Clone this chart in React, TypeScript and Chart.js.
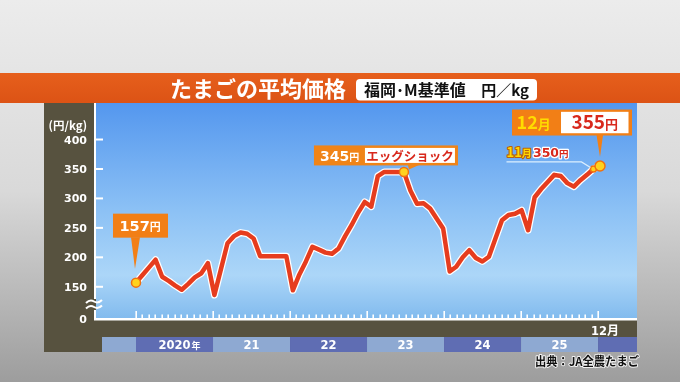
import React, { useEffect, useRef } from "react";
import { Chart, registerables } from "chart.js";
Chart.register(...registerables);

// Monthly price, Jan 2020 .. Dec 2025 (円/kg)
const prices2020 = [157, 170, 183, 196, 167, 160, 152, 145, 155, 166, 173, 190];
const prices2021 = [136, 180, 224, 236, 242, 240, 232, 202, 202, 202, 202, 202];
const prices2022 = [144, 171, 193, 218, 213, 208, 206, 215, 236, 255, 276, 294];
const prices2023 = [286, 338, 345, 345, 345, 345, 313, 291, 292, 283, 266, 249];
const prices2024 = [176, 184, 200, 212, 199, 193, 201, 232, 263, 272, 274, 280];
const prices2025 = [246, 302, 316, 328, 340, 338, 326, 320, 331, 340, 350, 355];
const prices = [...prices2020, ...prices2021, ...prices2022, ...prices2023, ...prices2024, ...prices2025];

const yearLabels = ["2020", "21", "22", "23", "24", "25"];
const yTickValues = [150, 200, 250, 300, 350, 400];
const yTickLabels = ["150", "200", "250", "300", "350", "400"];
const firstIdx = 0;
const peakIdx = 41;
const novIdx = 70;
const lastIdx = 71;

const W = 680;
const H = 382;
const JP = '"Noto Sans CJK JP", "Noto Sans", sans-serif';
const NUM = '"DejaVu Sans", sans-serif';

type Run = { t: string; f: string; c: string; s?: string; sw?: number };

function runsWidth(ctx: CanvasRenderingContext2D, runs: Run[]) {
  let w = 0;
  for (const r of runs) {
    ctx.font = r.f;
    w += ctx.measureText(r.t).width;
  }
  return w;
}

function drawRuns(ctx: CanvasRenderingContext2D, runs: Run[], x: number, y: number, align: "left" | "center" | "right" = "left") {
  const w = runsWidth(ctx, runs);
  let cx = align === "center" ? x - w / 2 : align === "right" ? x - w : x;
  ctx.textAlign = "left";
  ctx.textBaseline = "alphabetic";
  for (const r of runs) {
    ctx.font = r.f;
    if (r.s) {
      ctx.strokeStyle = r.s;
      ctx.lineWidth = r.sw || 2;
      ctx.lineJoin = "round";
      ctx.strokeText(r.t, cx, y);
    }
    ctx.fillStyle = r.c;
    ctx.fillText(r.t, cx, y);
    cx += ctx.measureText(r.t).width;
  }
}

function rrect(ctx: CanvasRenderingContext2D, x: number, y: number, w: number, h: number, r: number) {
  ctx.beginPath();
  ctx.moveTo(x + r, y);
  ctx.lineTo(x + w - r, y);
  ctx.quadraticCurveTo(x + w, y, x + w, y + r);
  ctx.lineTo(x + w, y + h - r);
  ctx.quadraticCurveTo(x + w, y + h, x + w - r, y + h);
  ctx.lineTo(x + r, y + h);
  ctx.quadraticCurveTo(x, y + h, x, y + h - r);
  ctx.lineTo(x, y + r);
  ctx.quadraticCurveTo(x, y, x + r, y);
  ctx.closePath();
}

const decor = {
  id: "decor",
  beforeDraw(chart: any) {
    const ctx: CanvasRenderingContext2D = chart.ctx;
    const a = chart.chartArea;
    const x2 = chart.scales.x2;
    ctx.save();
    // page background
    let g = ctx.createLinearGradient(0, 0, 0, H);
    g.addColorStop(0, "#ececec");
    g.addColorStop(0.5, "#d9d9d9");
    g.addColorStop(1, "#9d9d9d");
    ctx.fillStyle = g;
    ctx.fillRect(0, 0, W, H);

    // banner
    g = ctx.createLinearGradient(0, 73, 0, 103);
    g.addColorStop(0, "#e65f1c");
    g.addColorStop(1, "#dc5315");
    ctx.fillStyle = g;
    ctx.fillRect(0, 73, W, 30);
    ctx.fillStyle = "#ffffff";
    ctx.font = `bold 22px ${JP}`;
    ctx.textAlign = "center";
    ctx.textBaseline = "middle";
    ctx.fillText("たまごの平均価格", 258, 89);
    rrect(ctx, 356, 79, 181, 21.5, 4);
    ctx.fill();
    ctx.fillStyle = "#111111";
    ctx.textAlign = "left";
    ctx.font = `bold 16px ${JP}`;
    ctx.fillText("福岡･M基準値", 364, 90, 104);
    ctx.textAlign = "right";
    ctx.font = `bold 15px ${JP}`;
    ctx.fillText("円／kg", 529, 90, 48);

    // dark panel
    ctx.fillStyle = "#57523f";
    ctx.fillRect(44, 103, a.right - 44, 352 - 103);

    // plot gradient
    g = ctx.createLinearGradient(0, a.top, 0, a.bottom);
    g.addColorStop(0, "#5497ee");
    g.addColorStop(0.5, "#8cc1f5");
    g.addColorStop(0.8, "#acd6f8");
    g.addColorStop(1, "#82bbee");
    ctx.fillStyle = g;
    ctx.fillRect(a.left, a.top, a.right - a.left, a.bottom - a.top);

    // year bands
    const dark = "#5f6db3";
    const light = "#8ea9d2";
    const by = 337;
    const bh = 15;
    ctx.fillStyle = light;
    ctx.fillRect(102, by, x2.getPixelForValue(0) - 102, bh);
    yearLabels.forEach((_, k) => {
      const l = x2.getPixelForValue(k * 12);
      const r = x2.getPixelForValue(k * 12 + 12);
      ctx.fillStyle = k % 2 === 0 ? dark : light;
      ctx.fillRect(l, by, r - l, bh);
    });
    ctx.fillStyle = dark;
    const endX = x2.getPixelForValue(72);
    ctx.fillRect(endX, by, a.right - endX, bh);

    yearLabels.forEach((lab, k) => {
      const c = x2.getPixelForValue(k * 12 + 6);
      ctx.font = `bold 11.5px ${NUM}`;
      ctx.fillStyle = "#ffffff";
      ctx.textAlign = "center";
      ctx.textBaseline = "alphabetic";
      ctx.fillText(lab, c, 348.5);
      if (k === 0) {
        const w = ctx.measureText(lab).width;
        ctx.font = `bold 9px ${JP}`;
        ctx.textAlign = "left";
        ctx.fillText("年", c + w / 2 + 1, 348.5);
      }
    });

    // 12月 label
    drawRuns(ctx, [
      { t: "12", f: `bold 11.5px ${NUM}`, c: "#ffffff" },
      { t: "月", f: `bold 12px ${JP}`, c: "#ffffff" },
    ], x2.getPixelForValue(72) - 7, 335);

    // source
    ctx.font = `bold 12px ${JP}`;
    ctx.textAlign = "right";
    ctx.textBaseline = "alphabetic";
    ctx.strokeStyle = "rgba(255,255,255,0.85)";
    ctx.lineWidth = 2;
    ctx.lineJoin = "round";
    ctx.strokeText("出典：JA全農たまご", 639, 366, 104);
    ctx.fillStyle = "#111111";
    ctx.fillText("出典：JA全農たまご", 639, 366, 104);
    ctx.restore();
  },
  beforeDatasetsDraw(chart: any) {
    const ctx: CanvasRenderingContext2D = chart.ctx;
    const a = chart.chartArea;
    const ys = chart.scales.y;
    const x2 = chart.scales.x2;
    ctx.save();
    ctx.strokeStyle = "#ffffff";
    // y ticks + labels
    yTickValues.forEach((v, i) => {
      const y = ys.getPixelForValue(v);
      ctx.lineWidth = 2;
      ctx.beginPath();
      ctx.moveTo(a.left, y);
      ctx.lineTo(a.left + 7, y);
      ctx.stroke();
      ctx.font = `bold 11px ${NUM}`;
      ctx.fillStyle = "#ffffff";
      ctx.textAlign = "right";
      ctx.textBaseline = "alphabetic";
      ctx.fillText(yTickLabels[i], 87, y + 4);
    });
    ctx.fillText("0", 87, a.bottom + 4.5);
    ctx.font = `bold 11.5px ${JP}`;
    ctx.fillText("(円/kg)", 87, 130);

    // axes
    ctx.lineWidth = 2;
    ctx.beginPath();
    ctx.moveTo(a.left - 1, a.top);
    ctx.lineTo(a.left - 1, 299);
    ctx.moveTo(a.left - 1, 310);
    ctx.lineTo(a.left - 1, a.bottom + 2);
    ctx.stroke();
    ctx.lineWidth = 2.5;
    ctx.beginPath();
    ctx.moveTo(a.left - 2, a.bottom + 1.3);
    ctx.lineTo(a.right, a.bottom + 1.3);
    ctx.stroke();

    // axis break
    ctx.lineWidth = 2;
    [301.5, 307].forEach((dy) => {
      ctx.beginPath();
      ctx.moveTo(86, dy + 1.5);
      ctx.quadraticCurveTo(90, dy - 2.5, 94, dy);
      ctx.quadraticCurveTo(98, dy + 2.5, 102, dy - 1.5);
      ctx.stroke();
    });

    // x ticks
    ctx.lineWidth = 1.6;
    for (let i = 0; i <= 72; i++) {
      const x = Math.round(x2.getPixelForValue(i)) + 0.2;
      const h = i % 12 === 0 ? 7 : 3.5;
      ctx.beginPath();
      ctx.moveTo(x, a.bottom + 0.5);
      ctx.lineTo(x, a.bottom - h);
      ctx.stroke();
    }
    ctx.restore();
  },
  afterDatasetsDraw(chart: any) {
    const ctx: CanvasRenderingContext2D = chart.ctx;
    const xs = chart.scales.x;
    const ys = chart.scales.y;
    ctx.save();
    const orange = "#f27f16";
    const red = "#d8281c";

    // 157円
    const p0x = xs.getPixelForValue(firstIdx);
    const p0y = ys.getPixelForValue(prices[firstIdx]);
    {
      const l = p0x - 23, t = p0y - 69, w = 55, h = 24;
      ctx.fillStyle = orange;
      ctx.fillRect(l, t, w, h);
      ctx.beginPath();
      ctx.moveTo(p0x - 5, t + h - 0.5);
      ctx.lineTo(p0x + 4, t + h - 0.5);
      ctx.lineTo(p0x - 1, p0y - 14);
      ctx.closePath();
      ctx.fill();
      drawRuns(ctx, [
        { t: prices[firstIdx] + "", f: `bold 14.5px ${NUM}`, c: "#ffffff" },
        { t: "円", f: `bold 11px ${JP}`, c: "#ffffff" },
      ], l + 6.5, t + 17.5);
    }

    // 345円 エッグショック
    const pkx = xs.getPixelForValue(peakIdx);
    const pky = ys.getPixelForValue(prices[peakIdx]);
    {
      const l = pkx - 90, t = pky - 26.5, w = 144, h = 20;
      ctx.fillStyle = "#f08418";
      ctx.fillRect(l, t, w, h);
      ctx.beginPath();
      ctx.moveTo(pkx + 4, t + h - 0.5);
      ctx.lineTo(pkx + 15, t + h - 0.5);
      ctx.lineTo(pkx + 5, pky - 2.5);
      ctx.closePath();
      ctx.fill();
      ctx.fillStyle = "#ffffff";
      ctx.fillRect(l + 51, t + 2.5, 90, h - 5);
      drawRuns(ctx, [
        { t: prices[peakIdx] + "", f: `bold 14px ${NUM}`, c: "#ffffff" },
        { t: "円", f: `bold 10px ${JP}`, c: "#ffffff" },
      ], l + 6, t + 16);
      drawRuns(ctx, [{ t: "エッグショック", f: `bold 12.5px ${JP}`, c: red }], l + 96, t + 16, "center");
    }

    // 12月 355円
    const plx = xs.getPixelForValue(lastIdx);
    const ply = ys.getPixelForValue(prices[lastIdx]);
    {
      const l = plx - 88, t = ply - 56.5, w = 120, h = 26;
      ctx.fillStyle = orange;
      ctx.fillRect(l, t, w, h);
      ctx.beginPath();
      ctx.moveTo(plx - 3.5, t + h - 0.5);
      ctx.lineTo(plx + 3, t + h - 0.5);
      ctx.lineTo(plx, ply - 9);
      ctx.closePath();
      ctx.fill();
      ctx.fillStyle = "#ffffff";
      ctx.fillRect(l + 49, t + 2.3, 67.5, h - 4.6);
      drawRuns(ctx, [
        { t: "12", f: `bold 18px ${JP}`, c: "#ffdc00" },
        { t: "月", f: `bold 13px ${JP}`, c: "#ffdc00" },
      ], l + 4.5, t + 19);
      drawRuns(ctx, [
        { t: prices[lastIdx] + "", f: `bold 19px ${JP}`, c: red },
        { t: "円", f: `bold 13px ${JP}`, c: red },
      ], l + 49 + 33.75, t + 19.5, "center");
    }

    // 11月 350円
    const pnx = xs.getPixelForValue(novIdx);
    const pny = ys.getPixelForValue(prices[novIdx]);
    {
      ctx.strokeStyle = "rgba(225,242,255,0.95)";
      ctx.lineWidth = 1.2;
      ctx.beginPath();
      ctx.moveTo(pnx - 87, pny - 7);
      ctx.lineTo(pnx - 12, pny - 7);
      ctx.lineTo(pnx - 3, pny - 1.5);
      ctx.stroke();
      drawRuns(ctx, [
        { t: "11", f: `bold 13px ${JP}`, c: "#ffd800", s: "#b8620c", sw: 2.2 },
        { t: "月", f: `bold 10px ${JP}`, c: "#ffd800", s: "#b8620c", sw: 2.2 },
        { t: " ", f: `bold 5px ${JP}`, c: "#ffffff" },
        { t: prices[novIdx] + "", f: `bold 12.5px ${NUM}`, c: red, s: "#ffffff", sw: 2.5 },
        { t: "円", f: `bold 9.5px ${JP}`, c: red, s: "#ffffff", sw: 2.5 },
      ], pnx - 87, pny - 12);
    }
    ctx.restore();
  },
};

export default function App() {
  const ref = useRef<HTMLCanvasElement>(null);
  useEffect(() => {
    const pts = prices.map((v, i) => ({ x: i, y: v }));
    const radii = prices.map((_, i) =>
      i === lastIdx ? 5 : i === novIdx ? 3 : i === firstIdx || i === peakIdx ? 4.5 : 0
    );
    const chart = new Chart(ref.current as HTMLCanvasElement, {
      type: "line",
      data: {
        datasets: [
          {
            data: pts,
            borderColor: "#e63c1e",
            borderWidth: 4.5,
            borderJoinStyle: "round",
            borderCapStyle: "round",
            tension: 0,
            pointRadius: radii,
            pointBackgroundColor: "#ffd21e",
            pointBorderColor: "#f07010",
            pointBorderWidth: 1.5,
            pointHoverRadius: radii,
          },
          {
            data: pts,
            borderColor: "#ffffff",
            borderWidth: 7,
            borderJoinStyle: "round",
            borderCapStyle: "round",
            tension: 0,
            pointRadius: 0,
            pointHoverRadius: 0,
          },
        ],
      },
      options: {
        responsive: false,
        animation: false,
        events: [],
        layout: { padding: { left: 96, top: 103, right: 43, bottom: 64 } },
        plugins: { legend: { display: false }, tooltip: { enabled: false } },
        scales: {
          x: { type: "linear", min: -6.12, max: 76.66, display: false },
          x2: { type: "linear", min: -6.234, max: 78.07, display: false },
          y: { type: "linear", min: 97, max: 462, display: false },
        },
      },
      plugins: [decor],
    } as any);
    return () => chart.destroy();
  }, []);
  return (
    <div style={{ position: "absolute", left: 0, top: 0, width: W, height: H }}>
      <canvas ref={ref} width={W} height={H} style={{ display: "block", width: W, height: H }} />
    </div>
  );
}
